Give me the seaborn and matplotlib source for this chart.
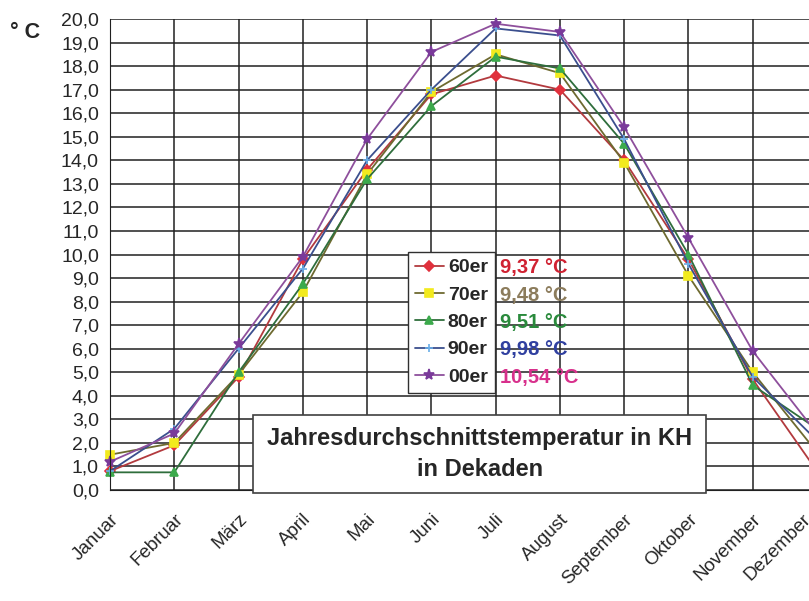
import matplotlib
matplotlib.use("Agg")
import matplotlib.pyplot as plt
import matplotlib.transforms as mtrans
import pandas as pd
import seaborn as sns
from matplotlib.patches import Rectangle

# Daten
monate = ["Januar", "Februar", "März", "April", "Mai", "Juni", "Juli",
          "August", "September", "Oktober", "November", "Dezember"]

t_60er = [0.8, 1.9, 4.8, 9.8, 13.6, 16.8, 17.6, 17.0, 14.0, 9.8, 4.7, 0.8]
t_70er = [1.5, 2.0, 4.9, 8.4, 13.4, 16.9, 18.5, 17.7, 13.9, 9.1, 5.0, 1.6]
t_80er = [0.75, 0.75, 5.0, 8.75, 13.2, 16.3, 18.4, 17.9, 14.7, 10.0, 4.45, 2.6]
t_90er = [0.8, 2.6, 6.0, 9.4, 14.0, 17.0, 19.6, 19.3, 14.9, 9.6, 4.8, 2.1]
t_00er = [1.2, 2.4, 6.2, 9.9, 14.9, 18.6, 19.8, 19.45, 15.4, 10.7, 5.9, 2.4]

dekaden = ["60er", "70er", "80er", "90er", "00er"]
mittel = ["9,37 °C", "9,48 °C", "9,51 °C", "9,98 °C", "10,54 °C"]

linien_farben = ["#b23a3e", "#6e6a30", "#2f6e3c", "#3b4f8e", "#8e4f9c"]
marker_farben = ["#e0303c", "#f2ea1e", "#3caa4c", "#6aaee8", "#7a3a9a"]
marker_typen = ["D", "s", "^", "+", "*"]
text_farben = ["#d02232", "#8c7c5c", "#2a8a3c", "#3040a0", "#d8308c"]

df = pd.DataFrame({"60er": t_60er, "70er": t_70er, "80er": t_80er,
                   "90er": t_90er, "00er": t_00er})
df["Monat"] = range(len(monate))
df_long = df.melt(id_vars="Monat", var_name="Dekade", value_name="Temp")

sns.set_style("white")
plt.rcParams["font.family"] = ["Liberation Sans", "DejaVu Sans"]

W, H = 809, 601
fig = plt.figure(figsize=(W / 100, H / 100), dpi=100)
ax = fig.add_axes([110 / W, 1 - 490 / H, 707 / W, 471 / H])

for i, dek in enumerate(dekaden):
    sub = df_long[df_long["Dekade"] == dek]
    sns.lineplot(data=sub, x="Monat", y="Temp", ax=ax, color=linien_farben[i],
                 linewidth=1.3, marker=marker_typen[i], markersize=5.5 if i != 4 else 8,
                 markerfacecolor=marker_farben[i], markeredgecolor=marker_farben[i],
                 markeredgewidth=1.2, label=dek, clip_on=False)

ax.set_xlim(0, 11)
ax.set_ylim(0, 20)
ax.set_xticks(range(len(monate)))
ax.set_xticklabels(monate, rotation=45, ha="right", rotation_mode="anchor", fontsize=13.5)
ax.set_yticks(range(0, 21))
ax.set_yticklabels([f"{v:.1f}".replace(".", ",") for v in range(0, 21)], fontsize=14)
ax.set_xlabel("")
ax.set_ylabel("")
ax.grid(True, color="#202020", linewidth=1.1)
ax.set_axisbelow(True)
ax.tick_params(axis="both", direction="out", length=6, width=1, color="#202020", pad=2)
ax.tick_params(axis="x", pad=9)
for s in ["top", "right"]:
    ax.spines[s].set_visible(False)
ax.spines["left"].set_color("#202020")
ax.spines["bottom"].set_color("#202020")

# Dezember etwas nach links, damit er im Bild bleibt
dez = ax.get_xticklabels()[-1]
dez.set_transform(dez.get_transform() + mtrans.ScaledTranslation(-15 / 100, 0, fig.dpi_scale_trans))

fig.text(10 / W, 1 - 33 / H, "° C", fontsize=15.5, fontweight="bold", va="center")

# Legende
leg = ax.legend(loc="upper left", bbox_to_anchor=((408 - 110) / 707, (490 - 252) / 471),
                fontsize=14, frameon=True, fancybox=False, edgecolor="#303030",
                framealpha=1, handlelength=1.5, borderpad=0.35, labelspacing=0.5,
                handletextpad=0.2, borderaxespad=0)
for t in leg.get_texts():
    t.set_fontweight("bold")

fig.canvas.draw()
inv = fig.transFigure.inverted()
for i, t in enumerate(leg.get_texts()):
    bb = t.get_window_extent()
    y_mitte = inv.transform((0, (bb.y0 + bb.y1) / 2))[1]
    fig.text(500 / W, y_mitte, mittel[i], color=text_farben[i], fontsize=14.5,
             fontweight="bold", va="center")

# Titelkasten
fig.patches.append(Rectangle((253 / W, 1 - 493 / H), 453 / W, 78 / H,
                             transform=fig.transFigure, facecolor="white",
                             edgecolor="#404040", linewidth=1.2, zorder=5))
fig.text(480 / W, 1 - 454 / H, "Jahresdurchschnittstemperatur in KH\nin Dekaden",
         ha="center", va="center", fontsize=17, fontweight="bold",
         linespacing=1.4, zorder=6)

fig.savefig("out.png", dpi=100)
